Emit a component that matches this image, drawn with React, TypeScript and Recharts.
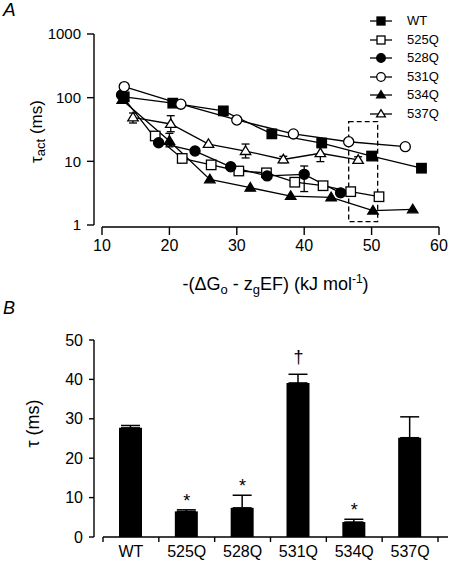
import React from 'react';
import {
  ScatterChart,
  Scatter,
  ComposedChart,
  Bar,
  Line,
  XAxis,
  YAxis,
  ErrorBar,
  ReferenceArea,
  Legend,
} from 'recharts';

const FONT = '"Liberation Sans", Arial, Helvetica, sans-serif';

// ---- panel A: tau_act vs -(dGo - zgEF)
const xTicksA = [10, 20, 30, 40, 50, 60];
const yTicksA = [1, 10, 100, 1000];

const wtX = [13.3, 20.5, 28, 35.2, 42.6, 50, 57.4];
const wtY = [103, 82, 62, 27, 19.4, 12.1, 7.8];

const q525X = [17.9, 21.9, 26.2, 30.3, 34.4, 38.6, 42.8, 46.9, 51.1];
const q525Y = [25, 11.1, 8.8, 7.05, 6.6, 4.7, 4.14, 3.34, 2.78];
const q525Err = [null, null, [1.2, 1.3], null, null, [0.5, 0.6], null, null, null];

const q528X = [12.9, 18.4, 23.8, 29.1, 34.5, 40, 45.4];
const q528Y = [110, 19.6, 14.5, 8.2, 5.9, 6.25, 3.2];
const q528Err = [null, null, null, null, null, [2.9, 2.2], null];

const q531X = [13.3, 21.7, 30, 38.4, 46.6, 55];
const q531Y = [149, 79, 44.6, 26.9, 20.3, 17];

const q534X = [13, 20, 26, 32, 38, 44, 50.2, 56.1];
const q534Y = [92, 20.9, 5.2, 3.85, 2.85, 2.72, 1.68, 1.76];
const q534Err = [[10, 12], [4, 6.6], null, null, null, null, null, null];

const q537X = [14.6, 20.2, 25.8, 31.3, 36.9, 42.4, 48];
const q537Y = [49, 38.6, 18.7, 14.5, 10.7, 13.4, 10.5];
const q537Err = [[9, 8.4], [9.4, 13.5], null, [3.2, 4.2], [1.2, 1.3], [3.5, 4], [1.2, 1.3]];

// dashed box around the ~50 kJ/mol points
const boxX = [46.6, 50.9];
const boxY = [1.13, 41.9];

type Kind = 'square' | 'circle' | 'triangle';

const seriesA: { name: string; xs: number[]; ys: number[]; err?: (number[] | null)[]; kind: Kind; filled: boolean }[] = [
  { name: 'WT', xs: wtX, ys: wtY, kind: 'square', filled: true },
  { name: '525Q', xs: q525X, ys: q525Y, err: q525Err, kind: 'square', filled: false },
  { name: '528Q', xs: q528X, ys: q528Y, err: q528Err, kind: 'circle', filled: true },
  { name: '531Q', xs: q531X, ys: q531Y, kind: 'circle', filled: false },
  { name: '534Q', xs: q534X, ys: q534Y, err: q534Err, kind: 'triangle', filled: true },
  { name: '537Q', xs: q537X, ys: q537Y, err: q537Err, kind: 'triangle', filled: false },
];

const toPoints = (s: (typeof seriesA)[number]) =>
  s.xs.map((x, i) => ({ x, y: s.ys[i], err: s.err ? s.err[i] ?? undefined : undefined }));

// ---- panel B: tau bars
const mutants = ['WT', '525Q', '528Q', '531Q', '534Q', '537Q'];
const tau = [27.7, 6.5, 7.4, 39.1, 3.8, 25.2];
const tauErr = [0.6, 0.4, 3.2, 2.2, 0.7, 5.3];
const marks = ['', '*', '*', '†', '*', ''];
const yTicksB = [0, 10, 20, 30, 40, 50];

const barData = mutants.map((name, i) => ({
  name,
  tau: tau[i],
  errRange: [0, tauErr[i]],
  top: tau[i] + tauErr[i],
  mark: marks[i],
}));

function Marker({ cx, cy, kind, filled, size }: { cx: number; cy: number; kind: Kind; filled: boolean; size: number }) {
  const fill = filled ? '#000' : '#fff';
  const common = { fill, stroke: '#000', strokeWidth: 1.3 };
  if (kind === 'square') {
    return <rect x={cx - size / 2} y={cy - size / 2} width={size} height={size} {...common} />;
  }
  if (kind === 'circle') {
    return <circle cx={cx} cy={cy} r={size / 2 + 0.3} {...common} />;
  }
  const h = size * 0.9;
  const w = size * 1.1;
  return (
    <polygon
      points={`${cx},${cy - h * 0.6} ${cx - w / 2},${cy + h * 0.4} ${cx + w / 2},${cy + h * 0.4}`}
      {...common}
    />
  );
}

function LegendA() {
  return (
    <div style={{ fontFamily: FONT, fontSize: 13, color: '#000' }}>
      {seriesA.map((s) => (
        <div key={s.name} style={{ display: 'flex', alignItems: 'center', height: 18.5 }}>
          <svg width={22} height={18} style={{ overflow: 'visible' }}>
            <line x1={0} x2={22} y1={9} y2={9} stroke="#000" strokeWidth={1.3} />
            <Marker cx={11} cy={9} kind={s.kind} filled={s.filled} size={8} />
          </svg>
          <span style={{ marginLeft: 15, lineHeight: '18px' }}>{s.name}</span>
        </div>
      ))}
    </div>
  );
}

const axisStroke = { stroke: '#000', strokeWidth: 1.4 };

function XTitleA(props: any) {
  const vb = props.viewBox;
  const cx = vb.x + vb.width / 2 + 9;
  const y = vb.y + 63;
  return (
    <text x={cx} y={y} textAnchor="middle" fontFamily={FONT} fontSize={18} fill="#000">
      -(ΔG<tspan dy={4} fontSize={13}>o</tspan>
      <tspan dy={-4}> - z</tspan>
      <tspan dy={4} fontSize={13}>g</tspan>
      <tspan dy={-4}>EF) (kJ mol</tspan>
      <tspan dy={-7} fontSize={12}>-1</tspan>
      <tspan dy={7}>)</tspan>
    </text>
  );
}

function YTitleA(props: any) {
  const vb = props.viewBox;
  const cx = 36;
  const cy = vb.y + vb.height / 2 + 1;
  return (
    <text
      x={cx}
      y={cy}
      transform={`rotate(-90, ${cx}, ${cy})`}
      textAnchor="middle"
      dominantBaseline="central"
      fontFamily={FONT}
      fontSize={17}
      fill="#000"
    >
      τ<tspan dy={4} fontSize={13}>act</tspan>
      <tspan dy={-4}> (ms)</tspan>
    </text>
  );
}

function YTitleB(props: any) {
  const vb = props.viewBox;
  const cx = 33;
  const cy = vb.y + vb.height / 2 - 15;
  return (
    <text
      x={cx}
      y={cy}
      transform={`rotate(-90, ${cx}, ${cy})`}
      textAnchor="middle"
      dominantBaseline="central"
      fontFamily={FONT}
      fontSize={18}
      fill="#000"
    >
      τ (ms)
    </text>
  );
}

function BarTick(props: any) {
  const { x, y, payload, index, visibleTicksCount, width } = props;
  const half = payload && payload.offset > 0 ? payload.offset : (width - 19) / visibleTicksCount / 2;
  const y0 = y - 9;
  return (
    <g>
      <line x1={x - half} x2={x - half} y1={y0} y2={y0 + 5} stroke="#000" strokeWidth={1.4} />
      {index === visibleTicksCount - 1 && (
        <line x1={x + half} x2={x + half} y1={y0} y2={y0 + 5} stroke="#000" strokeWidth={1.4} />
      )}
      <text x={x} y={y} dy="0.71em" textAnchor="middle" fontFamily={FONT} fontSize={16} fill="#000">
        {payload.value}
      </text>
    </g>
  );
}

const renderMark = (p: any) => (
  <text
    key={`mark-${p.index}`}
    x={p.cx}
    y={p.cy - (p.payload.mark === '†' ? 11 : 3)}
    textAnchor="middle"
    fontFamily={FONT}
    fontSize={18}
    fill="#000"
  >
    {p.payload.mark}
  </text>
);

export default function App() {
  return (
    <div style={{ position: 'absolute', left: 0, top: 0, width: 451, height: 566, background: '#fff' }}>
      <div
        style={{
          position: 'absolute',
          left: 3,
          top: 0,
          fontFamily: FONT,
          fontStyle: 'italic',
          fontSize: 19,
          lineHeight: '19px',
        }}
      >
        A
      </div>
      <div
        style={{
          position: 'absolute',
          left: 3,
          top: 299,
          fontFamily: FONT,
          fontStyle: 'italic',
          fontSize: 18,
          lineHeight: '18px',
        }}
      >
        B
      </div>

      <div style={{ position: 'absolute', left: 0, top: 0 }}>
        <ScatterChart width={451} height={300} margin={{ top: 34, right: 12, bottom: 0, left: 0 }}>
          <XAxis
            type="number"
            dataKey="x"
            domain={[10, 60]}
            ticks={xTicksA}
            padding={{ left: 8, right: 0 }}
            height={73}
            tickSize={8}
            tickMargin={5}
            axisLine={{ ...axisStroke, strokeDasharray: '0 8 1000 0' }}
            tickLine={axisStroke}
            tick={{ fill: '#000', fontSize: 16, fontFamily: FONT }}
            label={XTitleA}
          />
          <YAxis
            type="number"
            dataKey="y"
            scale="log"
            domain={[1, 1000]}
            ticks={yTicksA}
            allowDataOverflow
            padding={{ top: 0, bottom: 2 }}
            width={94}
            tickSize={7}
            tickMargin={6}
            axisLine={{ ...axisStroke, strokeDasharray: '191 20' }}
            tickLine={axisStroke}
            tick={{ fill: '#000', fontSize: 15, fontFamily: FONT }}
            label={YTitleA}
          />
          <ReferenceArea
            x1={boxX[0]}
            x2={boxX[1]}
            y1={boxY[0]}
            y2={boxY[1]}
            fill="none"
            fillOpacity={0}
            stroke="#000"
            strokeWidth={1.3}
            strokeDasharray="5 3"
            ifOverflow="visible"
          />
          {seriesA.map((s) => (
            <Scatter
              key={`line-${s.name}`}
              data={toPoints(s)}
              line={{ stroke: '#000', strokeWidth: 1.3 }}
              shape={() => <g />}
              legendType="none"
              isAnimationActive={false}
            />
          ))}
          {seriesA.map((s) => (
            <Scatter
              key={`pts-${s.name}`}
              name={s.name}
              data={toPoints(s)}
              shape={(p: any) => <Marker cx={p.cx} cy={p.cy} kind={s.kind} filled={s.filled} size={9.5} />}
              isAnimationActive={false}
            >
              {s.err && <ErrorBar dataKey="err" direction="y" width={4} stroke="#000" strokeWidth={1.3} />}
            </Scatter>
          ))}
          <Legend
            layout="vertical"
            align="center"
            verticalAlign="middle"
            wrapperStyle={{ top: 12, left: 370, width: 80, height: 112 }}
            content={LegendA}
          />
        </ScatterChart>
      </div>

      <div style={{ position: 'absolute', left: 0, top: 290 }}>
        <ComposedChart width={451} height={276} data={barData} margin={{ top: 50, right: 3, bottom: 0, left: 0 }}>
          <XAxis
            dataKey="name"
            height={29}
            padding={{ left: 9, right: 10 }}
            interval={0}
            tickSize={0}
            tickMargin={9}
            axisLine={{ ...axisStroke, strokeDasharray: '0 9 1000 0' }}
            tickLine={false}
            tick={BarTick}
          />
          <YAxis
            type="number"
            domain={[0, 50]}
            ticks={yTicksB}
            width={94}
            tickSize={5}
            tickMargin={6}
            axisLine={axisStroke}
            tickLine={axisStroke}
            tick={{ fill: '#000', fontSize: 16, fontFamily: FONT }}
            label={YTitleB}
          />
          <Bar dataKey="tau" fill="#000" barSize={23} isAnimationActive={false}>
            <ErrorBar dataKey="errRange" direction="y" width={9.5} stroke="#000" strokeWidth={1.5} />
          </Bar>
          <Line dataKey="top" stroke="none" dot={renderMark} activeDot={false} isAnimationActive={false} />
        </ComposedChart>
      </div>
    </div>
  );
}
